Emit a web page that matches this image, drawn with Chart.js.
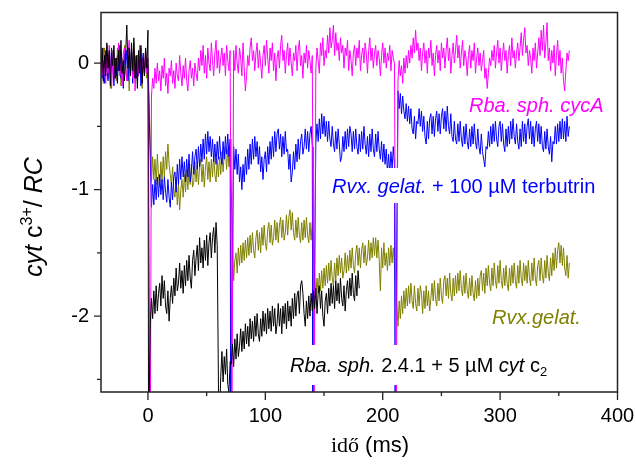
<!DOCTYPE html>
<html>
<head>
<meta charset="utf-8">
<title>cyt c3+ / RC</title>
<script src="https://cdn.jsdelivr.net/npm/chart.js@4.4.0/dist/chart.umd.min.js"></script>
<style>
  html, body { margin: 0; padding: 0; background: #fff; }
  #wrap { width: 636px; height: 464px; }
</style>
</head>
<body>
<div id="wrap"><canvas id="graf" width="636" height="464"></canvas></div>
<script>
// samples every 1 ms, each segment starts at the time given in *_start
var STEP = 1;
var OFF = -3; // flash artefact, runs off the bottom of the plot

var xTicks = [0, 100, 200, 300, 400];
var xMinor = [50, 150, 250, 350];
var yTicks = [-2, -1, 0];
var yMinor = [-2.5, -1.5, -0.5];

// Rba. sph. cycA (magenta)
var cycA_start = [-40, 3, 73, 143, 213];
var cycA_flash = [2, 71.5, 141.5, 211.5];
var cycA_0 = [0.08, -0.1, 0.12, -0.04, -0.16, 0.06, -0.08, 0.14, -0.02, -0.2,
  0.04, 0.1, -0.12, 0.02, -0.06, 0.16, -0.1, 0.0, -0.18, 0.08,
  0.12, -0.04, -0.14, 0.06, 0.18, -0.08, 0.02, -0.12, 0.1, -0.22,
  -0.02, 0.06, -0.1, 0.14, 0.0, -0.16, 0.04, -0.06, 0.1, -0.08,
  0.04];
var cycA_1 = [-0.26, -0.12, -0.2, -0.04, -0.16, 0.0, -0.14, -0.06, -0.22, -0.02,
  -0.12, 0.04, -0.18, -0.08, -0.24, -0.04, -0.1, 0.02, -0.16, -0.06,
  -0.2, 0.0, -0.1, -0.14, 0.06, -0.08, -0.18, -0.02, -0.12, 0.04,
  -0.14, -0.22, -0.06, 0.02, -0.12, -0.04, -0.18, 0.0, -0.08, -0.14,
  0.04, -0.06, 0.1, -0.02, 0.14, -0.08, 0.06, -0.12, 0.12, 0.0,
  -0.06, 0.16, 0.02, -0.1, 0.08, 0.18, -0.04, 0.1, -0.08, 0.04,
  0.12, -0.02, 0.08, -0.1, 0.14, 0.02, -0.06, 0.1];
var cycA_2 = [0.1, -0.06, 0.14, 0.0, -0.08, 0.12, 0.04, -0.1, 0.16, -0.04,
  -0.22, -0.1, 0.06, -0.02, 0.12, 0.2, 0.02, 0.1, -0.06, 0.08,
  0.16, -0.04, 0.1, 0.0, -0.12, 0.06, 0.14, -0.02, 0.18, 0.04,
  -0.08, 0.12, 0.02, 0.16, -0.06, 0.08, -0.14, 0.04, 0.1, -0.04,
  0.14, 0.22, 0.02, 0.1, -0.08, 0.06, 0.16, -0.02, 0.12, 0.0,
  -0.1, 0.08, 0.02, 0.14, -0.06, 0.1, 0.18, -0.02, 0.06, -0.12,
  0.08, 0.0, 0.14, -0.04, 0.1, 0.02, -0.08, 0.06];
var cycA_3 = [-0.04, 0.12, 0.02, -0.08, 0.16, 0.06, 0.2, -0.02, 0.1, 0.04,
  0.22, 0.08, 0.28, 0.12, 0.18, 0.3, 0.06, 0.24, 0.1, 0.16,
  0.02, 0.2, 0.08, 0.14, -0.04, 0.12, 0.06, 0.18, -0.06, 0.1,
  0.02, -0.1, 0.08, 0.14, -0.02, 0.12, 0.04, 0.18, -0.06, 0.06,
  0.12, 0.0, 0.16, 0.08, -0.08, 0.1, 0.2, 0.02, 0.12, -0.04,
  0.08, 0.14, -0.02, 0.1, 0.04, -0.1, 0.06, 0.16, 0.0, 0.12,
  -0.04, 0.08, 0.02, 0.14, -0.06, 0.1, 0.04, 0.0];
var cycA_4 = [-0.14, 0.02, -0.1, -0.02, -0.16, 0.04, -0.08, 0.06, -0.04, 0.1,
  0.0, 0.14, 0.04, 0.2, 0.08, 0.26, 0.1, 0.16, 0.02, 0.12,
  -0.06, 0.08, 0.16, 0.0, 0.1, -0.08, 0.12, 0.04, 0.18, -0.02,
  0.08, -0.1, 0.06, 0.14, 0.0, 0.1, -0.06, 0.16, 0.04, 0.12,
  -0.04, 0.1, 0.2, 0.02, 0.12, -0.08, 0.06, 0.16, 0.0, 0.1,
  0.22, 0.04, 0.14, -0.04, 0.08, 0.18, -0.02, 0.1, 0.04, -0.1,
  0.06, 0.14, -0.04, 0.1, 0.02, 0.16, -0.08, 0.04, 0.12, -0.02,
  0.08, -0.06, 0.02, 0.1, -0.12, -0.04, -0.2, -0.08, 0.04, -0.02,
  0.1, 0.02, 0.14, -0.04, 0.08, 0.18, 0.0, 0.12, -0.06, 0.06,
  0.16, 0.02, 0.1, -0.08, 0.06, 0.14, -0.02, 0.2, 0.04, 0.1,
  -0.04, 0.08, 0.16, 0.02, 0.12, 0.24, 0.06, 0.18, 0.28, 0.08,
  0.14, -0.02, 0.1, 0.04, -0.08, 0.12, 0.02, 0.16, -0.04, 0.08,
  0.2, 0.06, 0.26, 0.1, 0.3, 0.04, 0.16, 0.32, 0.02, 0.12,
  -0.06, 0.1, 0.0, 0.14, -0.1, 0.06, 0.18, -0.02, 0.1, -0.08,
  0.04, -0.14, -0.22, -0.06, 0.08, 0.02, 0.1];

// Rvx. gelat. + 100 uM terbutrin (blue)
var terb_start = [-40, 3, 73, 143, 213];
var terb_flash = [null, 70.5, 140.5, 210.5];
var terb_0 = [0.06, -0.12, 0.02, -0.16, 0.1, -0.04, -0.14, 0.08, -0.08, 0.12,
  -0.02, -0.18, 0.04, -0.1, 0.06, -0.06, 0.14, -0.12, 0.0, -0.2,
  0.08, -0.04, 0.1, -0.14, 0.02, -0.08, 0.12, -0.16, 0.04, -0.02,
  -0.12, 0.06, -0.06, 0.1, -0.18, 0.0, 0.08, -0.1, 0.04, -0.06,
  -0.02];
var terb_1 = [-1.14, -0.96, -1.12, -0.92, -1.08, -0.9, -1.06, -0.88, -1.04, -0.92,
  -1.08, -0.9, -1.02, -1.1, -0.92, -1.06, -1.14, -0.94, -1.08, -0.9,
  -0.86, -1.02, -0.8, -0.96, -0.76, -0.92, -0.74, -0.9, -0.78, -0.94,
  -0.76, -0.9, -0.72, -0.94, -0.86, -0.7, -0.88, -0.74, -0.68, -0.84,
  -0.66, -0.82, -0.64, -0.78, -0.6, -0.76, -0.56, -0.72, -0.54, -0.7,
  -0.58, -0.74, -0.6, -0.78, -0.64, -0.8, -0.62, -0.76, -0.58, -0.74,
  -0.8, -0.62, -0.76, -0.58, -0.72, -0.56, -0.74, -0.6];
var terb_2 = [-0.66, -0.84, -0.68, -0.88, -0.72, -0.94, -0.82, -1.0, -0.8, -0.94,
  -0.74, -0.88, -0.68, -0.84, -0.64, -0.8, -0.6, -0.76, -0.58, -0.74,
  -0.62, -0.8, -0.66, -0.86, -0.74, -0.92, -0.76, -0.7, -0.86, -0.66,
  -0.8, -0.62, -0.76, -0.58, -0.74, -0.54, -0.7, -0.56, -0.52, -0.68,
  -0.56, -0.74, -0.58, -0.72, -0.54, -0.7, -0.68, -0.84, -0.72, -0.94,
  -0.86, -0.7, -0.84, -0.64, -0.78, -0.6, -0.76, -0.62, -0.56, -0.72,
  -0.66, -0.52, -0.68, -0.54, -0.7, -0.56, -0.5, -0.66];
var terb_3 = [-0.64, -0.48, -0.62, -0.44, -0.6, -0.4, -0.56, -0.42, -0.58, -0.46,
  -0.62, -0.46, -0.6, -0.66, -0.5, -0.64, -0.7, -0.54, -0.68, -0.52,
  -0.64, -0.78, -0.74, -0.58, -0.7, -0.54, -0.68, -0.52, -0.66, -0.5,
  -0.56, -0.7, -0.54, -0.68, -0.52, -0.66, -0.72, -0.56, -0.7, -0.54,
  -0.68, -0.5, -0.64, -0.72, -0.58, -0.74, -0.56, -0.7, -0.52, -0.68,
  -0.74, -0.56, -0.7, -0.54, -0.68, -0.76, -0.62, -0.78, -0.64, -0.8,
  -0.68, -0.86, -0.72, -0.88, -0.7, -0.84, -0.66, -0.8];
var terb_4 = [-0.22, -0.36, -0.24, -0.4, -0.26, -0.38, -0.44, -0.32, -0.46, -0.34,
  -0.48, -0.36, -0.52, -0.56, -0.42, -0.6, -0.46, -0.48, -0.36, -0.5,
  -0.38, -0.54, -0.42, -0.58, -0.64, -0.46, -0.6, -0.44, -0.4, -0.56,
  -0.42, -0.58, -0.44, -0.38, -0.54, -0.4, -0.56, -0.42, -0.36, -0.52,
  -0.38, -0.54, -0.34, -0.5, -0.56, -0.4, -0.58, -0.62, -0.46, -0.6,
  -0.64, -0.48, -0.62, -0.46, -0.6, -0.66, -0.5, -0.64, -0.48, -0.62,
  -0.68, -0.52, -0.66, -0.5, -0.64, -0.48, -0.62, -0.68, -0.52, -0.66,
  -0.72, -0.56, -0.7, -0.76, -0.82, -0.66, -0.68, -0.54, -0.66, -0.5,
  -0.64, -0.48, -0.62, -0.46, -0.6, -0.66, -0.5, -0.46, -0.62, -0.48,
  -0.64, -0.7, -0.52, -0.66, -0.5, -0.64, -0.46, -0.6, -0.44, -0.58,
  -0.64, -0.48, -0.62, -0.68, -0.52, -0.66, -0.46, -0.62, -0.48, -0.64,
  -0.5, -0.44, -0.6, -0.46, -0.64, -0.5, -0.66, -0.52, -0.46, -0.62,
  -0.48, -0.64, -0.5, -0.66, -0.7, -0.54, -0.68, -0.52, -0.66, -0.72,
  -0.58, -0.78, -0.62, -0.64, -0.5, -0.64, -0.48, -0.62, -0.46, -0.6,
  -0.44, -0.6, -0.46, -0.62, -0.42, -0.58, -0.5];

// Rvx.gelat. (olive)
var gel_start = [-40, 3, 73, 143, 213];
var gel_flash = [null, null, null, null];
var gel_0 = [-0.1, 0.08, -0.16, 0.12, -0.04, 0.14, -0.12, 0.04, -0.2, 0.06,
  0.1, -0.08, 0.02, -0.14, 0.12, -0.06, 0.08, -0.18, 0.04, -0.1,
  0.14, -0.02, -0.12, 0.06, -0.22, 0.0, 0.1, -0.08, 0.16, -0.04,
  0.06, -0.14, 0.02, -0.08, 0.12, -0.2, 0.04, -0.06, 0.08, -0.12,
  0.02];
var gel_1 = [-0.94, -0.74, -0.92, -0.76, -0.96, -0.72, -0.9, -0.98, -0.78, -0.94,
  -0.74, -0.9, -0.7, -0.84, -0.64, -0.8, -0.88, -0.96, -0.82, -1.0,
  -1.06, -0.9, -1.12, -0.96, -1.16, -1.0, -0.92, -1.06, -0.88, -1.02,
  -0.84, -1.0, -0.82, -0.96, -0.8, -0.98, -0.94, -0.78, -0.94, -0.8,
  -0.96, -0.82, -0.76, -0.94, -0.8, -0.98, -0.82, -0.74, -0.92, -0.78,
  -0.94, -0.76, -0.9, -0.72, -0.88, -0.94, -0.76, -0.9, -0.74, -0.88,
  -0.7, -0.86, -0.72, -0.66, -0.84, -0.68, -0.82, -0.7];
var gel_2 = [-1.72, -1.56, -1.5, -1.66, -1.46, -1.6, -1.44, -1.58, -1.42, -1.56,
  -1.4, -1.54, -1.38, -1.52, -1.36, -1.5, -1.34, -1.48, -1.54, -1.38,
  -1.32, -1.48, -1.34, -1.5, -1.3, -1.44, -1.28, -1.42, -1.48, -1.32,
  -1.26, -1.42, -1.28, -1.44, -1.38, -1.24, -1.4, -1.26, -1.42, -1.28,
  -1.22, -1.38, -1.24, -1.4, -1.34, -1.2, -1.36, -1.22, -1.16, -1.32,
  -1.18, -1.34, -1.4, -1.24, -1.38, -1.22, -1.36, -1.42, -1.26, -1.4,
  -1.24, -1.38, -1.22, -1.36, -1.42, -1.26, -1.4, -1.26];
var gel_3 = [-1.86, -1.7, -1.82, -1.66, -1.8, -1.64, -1.78, -1.62, -1.76, -1.6,
  -1.74, -1.58, -1.72, -1.56, -1.7, -1.76, -1.58, -1.72, -1.54, -1.68,
  -1.52, -1.66, -1.54, -1.7, -1.64, -1.5, -1.66, -1.52, -1.64, -1.48,
  -1.62, -1.46, -1.6, -1.66, -1.5, -1.44, -1.6, -1.46, -1.62, -1.48,
  -1.42, -1.58, -1.44, -1.6, -1.54, -1.4, -1.56, -1.42, -1.54, -1.38,
  -1.52, -1.38, -1.54, -1.4, -1.56, -1.8, -1.46, -1.62, -1.42, -1.6,
  -1.5, -1.64, -1.46, -1.6, -1.44, -1.58, -1.46, -1.6];
var gel_4 = [-2.08, -1.88, -2.02, -1.84, -1.98, -1.8, -1.94, -1.78, -1.92, -1.76,
  -1.9, -1.74, -1.88, -1.94, -1.76, -1.9, -1.96, -1.78, -1.92, -1.76,
  -1.82, -1.98, -1.8, -1.94, -1.76, -1.92, -1.8, -1.96, -1.86, -1.74,
  -1.88, -1.72, -1.86, -1.92, -1.74, -1.88, -1.7, -1.84, -1.9, -1.72,
  -1.68, -1.84, -1.7, -1.86, -1.66, -1.82, -1.88, -1.7, -1.84, -1.68,
  -1.82, -1.66, -1.8, -1.64, -1.78, -1.84, -1.68, -1.82, -1.66, -1.8,
  -1.86, -1.7, -1.84, -1.68, -1.82, -1.88, -1.72, -1.86, -1.7, -1.84,
  -1.68, -1.64, -1.8, -1.66, -1.82, -1.62, -1.76, -1.6, -1.74, -1.8,
  -1.62, -1.76, -1.58, -1.72, -1.78, -1.6, -1.74, -1.56, -1.72, -1.78,
  -1.62, -1.76, -1.6, -1.74, -1.8, -1.62, -1.76, -1.6, -1.74, -1.58,
  -1.72, -1.78, -1.6, -1.74, -1.56, -1.7, -1.76, -1.58, -1.72, -1.6,
  -1.74, -1.56, -1.7, -1.76, -1.58, -1.72, -1.54, -1.7, -1.76, -1.6,
  -1.56, -1.72, -1.54, -1.68, -1.74, -1.56, -1.7, -1.52, -1.66, -1.72,
  -1.54, -1.68, -1.5, -1.64, -1.46, -1.62, -1.48, -1.42, -1.58, -1.44,
  -1.6, -1.46, -1.62, -1.68, -1.52, -1.7, -1.58];

// Rba. sph. 2.4.1 + 5 uM cyt c2 (black)
var c2_start = [-40, 2, 62];
var c2_flash = [0.5, 60.5];
var c2_0 = [-0.06, 0.12, -0.14, 0.06, -0.1, 0.16, -0.04, 0.1, -0.18, 0.08,
  -0.02, 0.14, -0.12, 0.04, -0.16, 0.1, -0.06, 0.18, -0.08, 0.02,
  -0.14, 0.08, 0.3, -0.04, 0.12, -0.1, 0.16, -0.06, 0.2, -0.12,
  0.06, -0.2, 0.1, -0.08, 0.14, -0.16, 0.04, -0.1, 0.12, -0.04,
  0.26];
var c2_1 = [-2.06, -1.86, -2.02, -1.8, -1.98, -1.76, -1.96, -1.82, -1.74, -1.92,
  -1.68, -1.86, -1.72, -1.92, -1.98, -1.8, -2.04, -1.86, -1.76, -1.9,
  -1.7, -1.84, -1.62, -1.8, -1.74, -1.58, -1.78, -1.64, -1.82, -1.6,
  -1.76, -1.56, -1.72, -1.52, -1.7, -1.78, -1.56, -1.48, -1.68, -1.54,
  -1.44, -1.64, -1.38, -1.58, -1.46, -1.62, -1.4, -1.56, -1.36, -1.6,
  -1.42, -1.34, -1.54, -1.38, -1.3, -1.5, -1.26, -1.44];
var c2_2 = [-2.48, -2.28, -2.52, -2.32, -2.46, -2.26, -2.54, -2.6, -2.36, -2.38,
  -2.22, -2.4, -2.18, -2.34, -2.14, -2.32, -2.24, -2.1, -2.28, -2.12,
  -2.26, -2.06, -2.22, -2.08, -2.24, -2.02, -2.18, -2.04, -2.2, -2.0,
  -2.16, -1.98, -2.14, -2.2, -2.02, -2.16, -1.96, -2.12, -1.98, -2.14,
  -1.94, -2.1, -1.96, -2.12, -1.92, -2.08, -1.94, -2.14, -2.06, -1.9,
  -2.08, -1.94, -2.14, -1.92, -2.06, -1.9, -2.1, -1.88, -2.04, -1.92,
  -2.08, -1.86, -2.02, -1.82, -2.0, -1.84, -1.8, -1.98, -1.76, -1.72,
  -1.82, -1.98, -2.08, -1.88, -2.02, -1.84, -2.0, -1.82, -1.96, -1.8,
  -1.94, -1.78, -1.98, -1.82, -1.76, -1.94, -1.8, -2.0, -2.08, -1.88,
  -1.82, -1.98, -1.78, -1.92, -1.74, -1.9, -1.76, -1.94, -1.72, -1.88,
  -1.74, -1.9, -1.7, -1.86, -1.92, -1.76, -1.96, -1.8, -1.72, -1.86,
  -1.7, -1.84, -1.66, -1.82, -1.88, -1.68, -1.84, -1.64, -1.78];

var SANS = 'Arial, "Liberation Sans", sans-serif';
var SERIF = '"Times New Roman", "Liberation Serif", serif';

function trace(starts, flashes, segs) {
  var pts = [];
  segs.forEach(function(vals, i) {
    vals.forEach(function(v, j) {
      pts.push({x: starts[i] + j * STEP, y: v});
    });
    if (i < flashes.length && flashes[i] !== null) {
      pts.push({x: flashes[i], y: OFF});
    }
  });
  return pts;
}

function line(data, color, order) {
  return {
    data: data,
    borderColor: color,
    borderWidth: 1,
    pointRadius: 0,
    tension: 0,
    fill: false,
    order: order
  };
}

// text with italic / super / subscript runs
function richWidth(ctx, parts, size) {
  var w = 0;
  parts.forEach(function(p) {
    var fs = (p.sup || p.sub) ? Math.round(size * 0.65) : size;
    ctx.font = (p.it ? 'italic ' : '') + fs + 'px ' + (p.serif ? SERIF : SANS);
    w += ctx.measureText(p.t).width;
  });
  return w;
}
function rich(ctx, parts, x, y, size) {
  parts.forEach(function(p) {
    var fs = (p.sup || p.sub) ? Math.round(size * 0.65) : size;
    ctx.font = (p.it ? 'italic ' : '') + fs + 'px ' + (p.serif ? SERIF : SANS);
    var dy = p.sup ? -size * 0.4 : (p.sub ? size * 0.22 : 0);
    ctx.fillText(p.t, x, y + dy);
    x += ctx.measureText(p.t).width;
  });
}

var labels = [
  {parts: [{t: 'Rba. sph. cycA', it: true}], x: 469, y: 112, color: '#ff00ff'},
  {parts: [{t: 'Rvx. gelat.', it: true}, {t: ' + 100 \u00b5M terbutrin'}], x: 332, y: 193,
    color: '#0000ff', box: [328, 168, 274, 35]},
  {parts: [{t: 'Rvx.gelat.', it: true}], x: 492, y: 324, color: '#808000'},
  {parts: [{t: 'Rba. sph.', it: true}, {t: ' 2.4.1 + 5 \u00b5M '}, {t: 'cyt', it: true},
    {t: ' c'}, {t: '2', sub: true}], x: 290, y: 372, color: '#000000', box: [285, 345, 270, 40]}
];

var decor = {
  id: 'decor',
  afterDatasetsDraw: function(chart) {
    var ctx = chart.ctx;
    var sx = chart.scales.x, sy = chart.scales.y;
    var L = sx.getPixelForValue(sx.min), R = sx.getPixelForValue(sx.max);
    var T = sy.getPixelForValue(sy.max), B = sy.getPixelForValue(sy.min);
    ctx.save();
    // labels inside the plot
    ctx.textBaseline = 'alphabetic';
    ctx.textAlign = 'left';
    labels.forEach(function(l) {
      if (l.box) {
        ctx.fillStyle = '#fff';
        ctx.fillRect(l.box[0], l.box[1], l.box[2], l.box[3]);
      }
      ctx.fillStyle = l.color;
      rich(ctx, l.parts, l.x, l.y, 20);
    });
    // frame
    ctx.strokeStyle = '#222';
    ctx.lineWidth = 1.5;
    ctx.strokeRect(L, T, R - L, B - T);
    // tick marks, outside
    ctx.lineWidth = 1.3;
    ctx.beginPath();
    xTicks.concat(xMinor).forEach(function(v) {
      var px = sx.getPixelForValue(v);
      var len = xTicks.indexOf(v) >= 0 ? 8 : 4;
      ctx.moveTo(px, B);
      ctx.lineTo(px, B + len);
    });
    yTicks.concat(yMinor).forEach(function(v) {
      var py = sy.getPixelForValue(v);
      var len = yTicks.indexOf(v) >= 0 ? 7 : 4;
      ctx.moveTo(L, py);
      ctx.lineTo(L - len, py);
    });
    ctx.stroke();
    // axis titles
    ctx.fillStyle = '#000';
    var xt = [{t: 'id\u0151', serif: true}, {t: ' (ms)'}];
    var w = richWidth(ctx, xt, 22);
    rich(ctx, xt, 370 - w / 2, 452, 22);
    var yt = [{t: 'cyt', it: true}, {t: ' c'}, {t: '3+', sup: true}, {t: '/ '}, {t: 'RC', it: true}];
    ctx.translate(42, 217);
    ctx.rotate(-Math.PI / 2);
    w = richWidth(ctx, yt, 25);
    rich(ctx, yt, -w / 2, 0, 25);
    ctx.restore();
  }
};

var datasets = [
  line(trace(c2_start, c2_flash, [c2_0, c2_1, c2_2]), '#000000', 1),
  line(trace(cycA_start, cycA_flash, [cycA_0, cycA_1, cycA_2, cycA_3, cycA_4]), '#ff00ff', 2),
  line(trace(terb_start, terb_flash, [terb_0, terb_1, terb_2, terb_3, terb_4]), '#0000ff', 3),
  line(trace(gel_start, gel_flash, [gel_0, gel_1, gel_2, gel_3, gel_4]), '#808000', 4)
];

var g = document.getElementById('graf');
var chart = new Chart(g, {
  type: 'line',
  data: { datasets: datasets },
  plugins: [decor],
  options: {
    responsive: false,
    animation: false,
    devicePixelRatio: 1,
    layout: { autoPadding: false, padding: { left: 0, right: 18.5, top: 12.5, bottom: 0 } },
    plugins: { legend: { display: false }, tooltip: { enabled: false } },
    scales: {
      x: {
        type: 'linear', min: -40, max: 400,
        afterBuildTicks: function(s) { s.ticks = xTicks.map(function(v) { return {value: v}; }); },
        afterFit: function(s) { s.height = 72; s.paddingLeft = 0; s.paddingRight = 0; },
        ticks: { font: { family: SANS, size: 20 }, color: '#000', padding: 12, maxRotation: 0, autoSkip: false },
        grid: { display: false, drawTicks: false },
        border: { display: false }
      },
      y: {
        type: 'linear', min: -2.6, max: 0.4,
        afterBuildTicks: function(s) { s.ticks = yTicks.map(function(v) { return {value: v}; }); },
        afterFit: function(s) { s.width = 101; s.paddingTop = 0; s.paddingBottom = 0; },
        ticks: { font: { family: SANS, size: 20 }, color: '#000', padding: 12 },
        grid: { display: false, drawTicks: false },
        border: { display: false }
      }
    }
  }
});
</script>
</body>
</html>
